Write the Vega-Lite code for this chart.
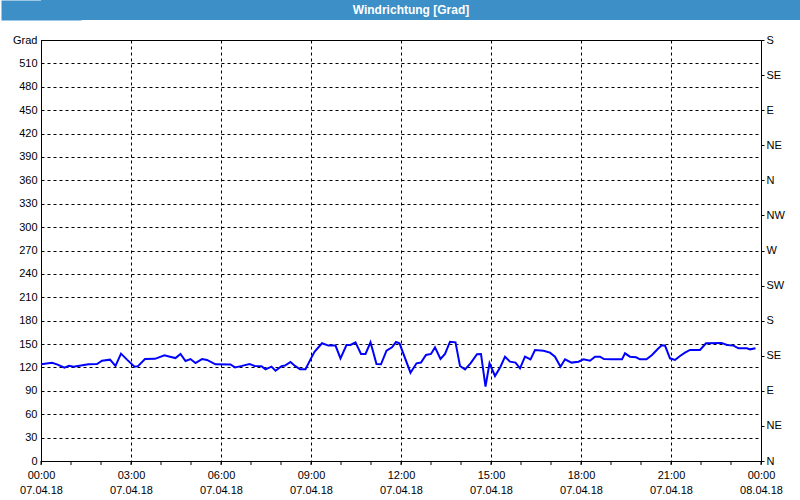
{
  "$schema": "https://vega.github.io/schema/vega-lite/v6.json",
  "padding": 0,
  "background": "white",
  "spacing": 13,
  "columns": 1,
  "align": "none",
  "config": {
    "font": "Liberation Sans",
    "axis": {"labelFont": "Liberation Sans", "labelFontSize": 11, "labelColor": "black", "domainColor": "black", "tickColor": "black"}
  },
  "datasets": {
    "stunden": [
      {"zeit": "2018-04-07T00:00"}, {"zeit": "2018-04-07T01:00"}, {"zeit": "2018-04-07T02:00"}, {"zeit": "2018-04-07T03:00"},
      {"zeit": "2018-04-07T04:00"}, {"zeit": "2018-04-07T05:00"}, {"zeit": "2018-04-07T06:00"}, {"zeit": "2018-04-07T07:00"},
      {"zeit": "2018-04-07T08:00"}, {"zeit": "2018-04-07T09:00"}, {"zeit": "2018-04-07T10:00"}, {"zeit": "2018-04-07T11:00"},
      {"zeit": "2018-04-07T12:00"}, {"zeit": "2018-04-07T13:00"}, {"zeit": "2018-04-07T14:00"}, {"zeit": "2018-04-07T15:00"},
      {"zeit": "2018-04-07T16:00"}, {"zeit": "2018-04-07T17:00"}, {"zeit": "2018-04-07T18:00"}, {"zeit": "2018-04-07T19:00"},
      {"zeit": "2018-04-07T20:00"}, {"zeit": "2018-04-07T21:00"}, {"zeit": "2018-04-07T22:00"}, {"zeit": "2018-04-07T23:00"},
      {"zeit": "2018-04-08T00:00"}
    ],
    "wind": [
      {"zeit": "2018-04-07T00:00", "grad": 124},
      {"zeit": "2018-04-07T00:22", "grad": 126},
      {"zeit": "2018-04-07T00:32", "grad": 124},
      {"zeit": "2018-04-07T00:47", "grad": 119.7},
      {"zeit": "2018-04-07T00:56", "grad": 122},
      {"zeit": "2018-04-07T01:05", "grad": 121},
      {"zeit": "2018-04-07T01:35", "grad": 124},
      {"zeit": "2018-04-07T01:52", "grad": 124.4},
      {"zeit": "2018-04-07T02:02", "grad": 128.7},
      {"zeit": "2018-04-07T02:18", "grad": 130},
      {"zeit": "2018-04-07T02:29", "grad": 122},
      {"zeit": "2018-04-07T02:40", "grad": 137.7},
      {"zeit": "2018-04-07T02:52", "grad": 130},
      {"zeit": "2018-04-07T03:07", "grad": 121},
      {"zeit": "2018-04-07T03:14", "grad": 121.7},
      {"zeit": "2018-04-07T03:28", "grad": 130.8},
      {"zeit": "2018-04-07T03:48", "grad": 131},
      {"zeit": "2018-04-07T04:07", "grad": 135.5},
      {"zeit": "2018-04-07T04:16", "grad": 134},
      {"zeit": "2018-04-07T04:29", "grad": 132},
      {"zeit": "2018-04-07T04:39", "grad": 137.3},
      {"zeit": "2018-04-07T04:49", "grad": 128.3},
      {"zeit": "2018-04-07T04:59", "grad": 130.8},
      {"zeit": "2018-04-07T05:09", "grad": 125.7},
      {"zeit": "2018-04-07T05:22", "grad": 130.8},
      {"zeit": "2018-04-07T05:32", "grad": 129.6},
      {"zeit": "2018-04-07T05:49", "grad": 124},
      {"zeit": "2018-04-07T06:19", "grad": 123.8},
      {"zeit": "2018-04-07T06:28", "grad": 120},
      {"zeit": "2018-04-07T06:42", "grad": 122},
      {"zeit": "2018-04-07T06:57", "grad": 124.5},
      {"zeit": "2018-04-07T07:07", "grad": 122},
      {"zeit": "2018-04-07T07:21", "grad": 121.7},
      {"zeit": "2018-04-07T07:29", "grad": 117.6},
      {"zeit": "2018-04-07T07:41", "grad": 121},
      {"zeit": "2018-04-07T07:49", "grad": 115.8},
      {"zeit": "2018-04-07T08:01", "grad": 121.7},
      {"zeit": "2018-04-07T08:08", "grad": 122.4},
      {"zeit": "2018-04-07T08:19", "grad": 127},
      {"zeit": "2018-04-07T08:28", "grad": 122},
      {"zeit": "2018-04-07T08:38", "grad": 117.6},
      {"zeit": "2018-04-07T08:49", "grad": 117.6},
      {"zeit": "2018-04-07T08:59", "grad": 130.4},
      {"zeit": "2018-04-07T09:07", "grad": 140},
      {"zeit": "2018-04-07T09:22", "grad": 151},
      {"zeit": "2018-04-07T09:35", "grad": 148},
      {"zeit": "2018-04-07T09:49", "grad": 148},
      {"zeit": "2018-04-07T09:59", "grad": 131.7},
      {"zeit": "2018-04-07T10:11", "grad": 148.8},
      {"zeit": "2018-04-07T10:19", "grad": 148.8},
      {"zeit": "2018-04-07T10:29", "grad": 152.2},
      {"zeit": "2018-04-07T10:40", "grad": 137.3},
      {"zeit": "2018-04-07T10:49", "grad": 137.3},
      {"zeit": "2018-04-07T10:59", "grad": 152.2},
      {"zeit": "2018-04-07T11:11", "grad": 124.4},
      {"zeit": "2018-04-07T11:20", "grad": 124},
      {"zeit": "2018-04-07T11:31", "grad": 141.5},
      {"zeit": "2018-04-07T11:42", "grad": 145.8},
      {"zeit": "2018-04-07T11:50", "grad": 152.6},
      {"zeit": "2018-04-07T11:57", "grad": 151},
      {"zeit": "2018-04-07T12:19", "grad": 113.3},
      {"zeit": "2018-04-07T12:31", "grad": 125.3},
      {"zeit": "2018-04-07T12:40", "grad": 126.2},
      {"zeit": "2018-04-07T12:50", "grad": 136},
      {"zeit": "2018-04-07T13:00", "grad": 137.3},
      {"zeit": "2018-04-07T13:08", "grad": 145.8},
      {"zeit": "2018-04-07T13:19", "grad": 130.8},
      {"zeit": "2018-04-07T13:28", "grad": 137.3},
      {"zeit": "2018-04-07T13:38", "grad": 153},
      {"zeit": "2018-04-07T13:49", "grad": 152.2},
      {"zeit": "2018-04-07T13:58", "grad": 121.9},
      {"zeit": "2018-04-07T14:08", "grad": 117.6},
      {"zeit": "2018-04-07T14:19", "grad": 125.3},
      {"zeit": "2018-04-07T14:32", "grad": 136.9},
      {"zeit": "2018-04-07T14:40", "grad": 137.3},
      {"zeit": "2018-04-07T14:49", "grad": 95.3},
      {"zeit": "2018-04-07T14:57", "grad": 125.3},
      {"zeit": "2018-04-07T15:08", "grad": 109},
      {"zeit": "2018-04-07T15:19", "grad": 121},
      {"zeit": "2018-04-07T15:28", "grad": 133.8},
      {"zeit": "2018-04-07T15:38", "grad": 127.4},
      {"zeit": "2018-04-07T15:49", "grad": 126.2},
      {"zeit": "2018-04-07T15:58", "grad": 118.9},
      {"zeit": "2018-04-07T16:08", "grad": 133.8},
      {"zeit": "2018-04-07T16:19", "grad": 130.4},
      {"zeit": "2018-04-07T16:28", "grad": 142.4},
      {"zeit": "2018-04-07T16:45", "grad": 141.5},
      {"zeit": "2018-04-07T16:58", "grad": 139},
      {"zeit": "2018-04-07T17:08", "grad": 133.8},
      {"zeit": "2018-04-07T17:19", "grad": 121},
      {"zeit": "2018-04-07T17:28", "grad": 130.4},
      {"zeit": "2018-04-07T17:41", "grad": 126.2},
      {"zeit": "2018-04-07T17:55", "grad": 127.4},
      {"zeit": "2018-04-07T18:05", "grad": 130.4},
      {"zeit": "2018-04-07T18:18", "grad": 128.7},
      {"zeit": "2018-04-07T18:28", "grad": 133.8},
      {"zeit": "2018-04-07T18:38", "grad": 133.8},
      {"zeit": "2018-04-07T18:46", "grad": 130.8},
      {"zeit": "2018-04-07T19:02", "grad": 130.4},
      {"zeit": "2018-04-07T19:22", "grad": 130.4},
      {"zeit": "2018-04-07T19:28", "grad": 138.1},
      {"zeit": "2018-04-07T19:38", "grad": 133.8},
      {"zeit": "2018-04-07T19:50", "grad": 133},
      {"zeit": "2018-04-07T19:58", "grad": 130.4},
      {"zeit": "2018-04-07T20:11", "grad": 130.4},
      {"zeit": "2018-04-07T20:22", "grad": 136},
      {"zeit": "2018-04-07T20:35", "grad": 144.5},
      {"zeit": "2018-04-07T20:41", "grad": 148},
      {"zeit": "2018-04-07T20:48", "grad": 148},
      {"zeit": "2018-04-07T20:58", "grad": 131.7},
      {"zeit": "2018-04-07T21:08", "grad": 129.6},
      {"zeit": "2018-04-07T21:18", "grad": 134.7},
      {"zeit": "2018-04-07T21:28", "grad": 139},
      {"zeit": "2018-04-07T21:38", "grad": 142.4},
      {"zeit": "2018-04-07T21:58", "grad": 142.4},
      {"zeit": "2018-04-07T22:10", "grad": 151},
      {"zeit": "2018-04-07T22:41", "grad": 151.5},
      {"zeit": "2018-04-07T22:52", "grad": 148.8},
      {"zeit": "2018-04-07T23:05", "grad": 148},
      {"zeit": "2018-04-07T23:15", "grad": 144.5},
      {"zeit": "2018-04-07T23:32", "grad": 144.5},
      {"zeit": "2018-04-07T23:38", "grad": 143.2},
      {"zeit": "2018-04-07T23:49", "grad": 144.5}
    ]
  },
  "concat": [
    {
      "width": 760,
      "height": 20,
      "view": {"fill": "#3d8fc7", "stroke": null},
      "data": {"values": [{"titel": "Windrichtung [Grad]"}]},
      "mark": {"type": "text", "color": "white", "font": "Liberation Sans", "fontWeight": "bold", "fontSize": 12, "align": "center", "baseline": "middle", "dx": -10},
      "encoding": {
        "text": {"field": "titel", "type": "nominal"},
        "y": {
          "datum": 0, "type": "quantitative",
          "scale": {"domain": [-1, 1], "nice": false},
          "axis": {"title": null, "labels": false, "ticks": false, "grid": false, "domainColor": "#3d8fc7", "domainWidth": 80, "minExtent": 0}
        }
      }
    },
    {
      "width": 720,
      "height": 421,
      "view": {"stroke": "black", "strokeWidth": 1},
      "resolve": {"scale": {"y": "independent"}},
      "layer": [
        {
          "data": {"name": "wind"},
          "mark": {"type": "line", "color": "#0000ff", "strokeWidth": 2},
          "encoding": {
            "x": {
              "field": "zeit", "type": "temporal",
              "scale": {"domain": ["2018-04-07T00:00", "2018-04-08T00:00"], "nice": false},
              "axis": {
                "title": null,
                "values": ["2018-04-07T00:00", "2018-04-07T03:00", "2018-04-07T06:00", "2018-04-07T09:00", "2018-04-07T12:00", "2018-04-07T15:00", "2018-04-07T18:00", "2018-04-07T21:00", "2018-04-08T00:00"],
                "labelExpr": "[timeFormat(datum.value, '%H:%M'), timeFormat(datum.value, '%d.%m.%y')]",
                "labelOverlap": false,
                "labelFlush": false,
                "labelPadding": 5,
                "labelLineHeight": 15,
                "labelBaseline": "top",
                "tickSize": 3,
                "grid": true,
                "gridColor": "black",
                "gridDash": [3, 3]
              }
            },
            "y": {
              "field": "grad", "type": "quantitative",
              "scale": {"domain": [0, 540], "nice": false},
              "axis": {
                "title": null,
                "values": [0, 30, 60, 90, 120, 150, 180, 210, 240, 270, 300, 330, 360, 390, 420, 450, 480, 510, 540],
                "labelExpr": "datum.value == 540 ? 'Grad' : datum.label",
                "ticks": false,
                "labelPadding": 4,
                "minExtent": 40,
                "grid": true,
                "gridColor": "black",
                "gridDash": [3, 3]
              }
            }
          }
        },
        {
          "data": {"name": "wind"},
          "mark": {"type": "line", "opacity": 0},
          "encoding": {
            "x": {"field": "zeit", "type": "temporal"},
            "y": {
              "field": "grad", "type": "quantitative",
              "scale": {"domain": [0, 540], "nice": false},
              "axis": {
                "title": null,
                "orient": "right",
                "values": [0, 45, 90, 135, 180, 225, 270, 315, 360, 405, 450, 495, 540],
                "labelExpr": "datum.value == 0 || datum.value == 360 ? 'N' : datum.value == 45 || datum.value == 405 ? 'NE' : datum.value == 90 || datum.value == 450 ? 'E' : datum.value == 135 || datum.value == 495 ? 'SE' : datum.value == 180 || datum.value == 540 ? 'S' : datum.value == 225 ? 'SW' : datum.value == 270 ? 'W' : 'NW'",
                "tickSize": 3,
                "labelPadding": 2,
                "grid": false
              }
            }
          }
        },
        {
          "data": {"name": "stunden"},
          "mark": {"type": "tick", "orient": "vertical", "size": 4, "thickness": 1, "color": "black", "yOffset": 2, "opacity": 1},
          "encoding": {
            "x": {"field": "zeit", "type": "temporal"},
            "y": {"datum": 0, "type": "quantitative", "scale": {"domain": [0, 540], "nice": false}, "axis": null}
          }
        }
      ]
    }
  ]
}
